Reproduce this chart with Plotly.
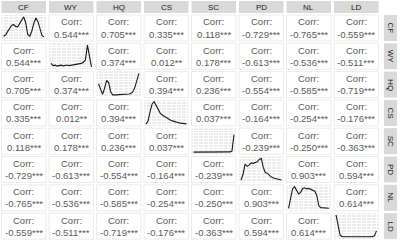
import plotly.graph_objects as go
import numpy as np

variables = ["CF", "WY", "HQ", "CS", "SC", "PD", "NL", "LD"]

# lower-triangle correlations (row variable vs later variables)
r_CF = [0.544, 0.705, 0.335, 0.118, -0.729, -0.765, -0.559]
s_CF = ["***", "***", "***", "***", "***", "***", "***"]
r_WY = [0.374, 0.012, 0.178, -0.613, -0.536, -0.511]
s_WY = ["***", "**", "***", "***", "***", "***"]
r_HQ = [0.394, 0.236, -0.554, -0.585, -0.719]
s_HQ = ["***", "***", "***", "***", "***"]
r_CS = [0.037, -0.164, -0.254, -0.176]
s_CS = ["***", "***", "***", "***"]
r_SC = [-0.239, -0.250, -0.363]
s_SC = ["***", "***", "***"]
r_PD = [0.903, 0.594]
s_PD = ["***", "***"]
r_NL = [0.614]
s_NL = ["***"]

# density curves (relative heights on an evenly spaced grid over each variable's range)
grid = np.linspace(0, 1, 21)
dens_CF = [0.15, 0.2, 0.35, 0.5, 0.62, 0.67, 0.58, 0.56, 0.7, 0.9, 1.0, 0.72, 0.22, 0.15, 0.38, 0.72, 0.95, 0.8, 0.45, 0.18, 0.12]
dens_WY = [0.2, 0.1, 0.12, 0.08, 0.1, 0.12, 0.09, 0.1, 0.13, 0.1, 0.12, 0.11, 0.14, 0.15, 0.18, 0.2, 0.25, 0.35, 1.0, 0.5, 0.05]
dens_HQ = [0.55, 0.3, 0.08, 0.35, 0.7, 0.6, 0.2, 0.06, 0.05, 0.06, 0.07, 0.07, 0.08, 0.08, 0.09, 0.1, 0.12, 0.2, 0.4, 0.75, 1.0]
dens_CS = [0.02, 0.15, 0.55, 0.9, 1.0, 0.85, 0.65, 0.5, 0.42, 0.36, 0.3, 0.25, 0.2, 0.16, 0.13, 0.1, 0.08, 0.06, 0.05, 0.04, 0.03]
dens_SC = [0.03, 0.03, 0.03, 0.03, 0.03, 0.03, 0.03, 0.03, 0.03, 0.03, 0.03, 0.03, 0.03, 0.03, 0.03, 0.03, 0.03, 0.03, 0.04, 0.08, 0.8]
dens_PD = [0.05, 0.3, 0.75, 0.65, 0.7, 0.8, 0.78, 0.82, 0.85, 0.95, 1.0, 0.6, 0.38, 0.35, 0.25, 0.18, 0.14, 0.12, 0.08, 0.06, 0.05]
dens_NL = [0.05, 0.5, 0.9, 1.0, 0.85, 0.68, 0.75, 0.92, 0.95, 0.9, 0.92, 0.88, 0.85, 0.8, 0.6, 0.15, 0.08, 0.07, 0.06, 0.06, 0.05]
dens_LD = [1.0, 0.55, 0.12, 0.05, 0.04, 0.04, 0.04, 0.04, 0.04, 0.04, 0.04, 0.04, 0.04, 0.04, 0.04, 0.04, 0.04, 0.04, 0.05, 0.08, 0.3]

r_rows = [r_CF, r_WY, r_HQ, r_CS, r_SC, r_PD, r_NL]
s_rows = [s_CF, s_WY, s_HQ, s_CS, s_SC, s_PD, s_NL]
densities = [dens_CF, dens_WY, dens_HQ, dens_CS, dens_SC, dens_PD, dens_NL, dens_LD]

n = len(variables)
corr = [[None] * n for _ in range(n)]
for i in range(n - 1):
    for k, (v, s) in enumerate(zip(r_rows[i], s_rows[i])):
        j = i + 1 + k
        corr[i][j] = (v, s)
        corr[j][i] = (v, s)

W, H = 400, 245
X0, PX, CW = 1.5, 47.5, 44.5
Y0, PY, CH = 15.0, 28.3, 26.0
STRIP_TOP, STRIP_BOT = 1.0, 13.0
RS_X0, RS_X1 = 384.0, 397.0

def fx(px):
    return px / W

def fy(py):
    return 1 - py / H

fig = go.Figure()
shapes = []
annotations = []
TXT = "#5a5a5a"
FONT = "Liberation Sans, Arial, sans-serif"

for i in range(n):
    for j in range(n):
        x0 = X0 + PX * j
        x1 = x0 + CW
        y0 = Y0 + PY * i
        y1 = y0 + CH
        if i == j:
            ax = i + 1
            xa = "xaxis" if ax == 1 else f"xaxis{ax}"
            ya = "yaxis" if ax == 1 else f"yaxis{ax}"
            xr = "x" if ax == 1 else f"x{ax}"
            yr = "y" if ax == 1 else f"y{ax}"
            fig.add_trace(go.Scatter(x=grid, y=densities[i], mode="lines",
                                     line=dict(color="#1a1a1a", width=1.1),
                                     xaxis=xr, yaxis=yr, showlegend=False,
                                     hoverinfo="skip"))
            fig.layout[xa] = dict(domain=[fx(x0), fx(x1)], range=[-0.05, 1.05],
                                  showticklabels=False, ticks="", zeroline=False,
                                  showgrid=True, gridcolor="white", gridwidth=0.8,
                                  dtick=0.25, tick0=0,
                                  minor=dict(showgrid=True, gridcolor="white", gridwidth=0.4, dtick=0.125),
                                  showline=False, anchor=yr, fixedrange=True)
            fig.layout[ya] = dict(domain=[fy(y1), fy(y0)], range=[-0.06, 1.08],
                                  showticklabels=False, ticks="", zeroline=False,
                                  showgrid=True, gridcolor="white", gridwidth=0.8,
                                  dtick=0.25, tick0=0,
                                  minor=dict(showgrid=True, gridcolor="white", gridwidth=0.4, dtick=0.125),
                                  showline=False, anchor=xr, fixedrange=True)
            shapes.append(dict(type="rect", xref=f"{xr} domain", yref=f"{yr} domain",
                               x0=0, x1=1, y0=0, y1=1, fillcolor="#ebebeb",
                               line=dict(width=0), layer="below"))
        else:
            shapes.append(dict(type="rect", xref="paper", yref="paper",
                               x0=fx(x0), x1=fx(x1), y0=fy(y1), y1=fy(y0),
                               fillcolor="white", line=dict(color="#ebebeb", width=1),
                               layer="below"))
            v, s = corr[i][j]
            cx = fx((x0 + x1) / 2)
            cy = (y0 + y1) / 2
            annotations.append(dict(text="Corr:", x=cx, y=fy(cy - 6), xref="paper", yref="paper",
                                    showarrow=False, xanchor="center", yanchor="middle",
                                    font=dict(size=9.5, color=TXT, family=FONT)))
            annotations.append(dict(text=f"{v:.3f}{s}", x=cx, y=fy(cy + 6), xref="paper", yref="paper",
                                    showarrow=False, xanchor="center", yanchor="middle",
                                    font=dict(size=9.5, color=TXT, family=FONT)))

# top strips
for j, name in enumerate(variables):
    x0 = X0 + PX * j
    x1 = x0 + CW
    shapes.append(dict(type="rect", xref="paper", yref="paper",
                       x0=fx(x0), x1=fx(x1), y0=fy(STRIP_BOT), y1=fy(STRIP_TOP),
                       fillcolor="#d9d9d9", line=dict(width=0), layer="below"))
    annotations.append(dict(text=name, x=fx((x0 + x1) / 2), y=fy((STRIP_TOP + STRIP_BOT) / 2),
                            xref="paper", yref="paper", showarrow=False,
                            xanchor="center", yanchor="middle",
                            font=dict(size=8, color="#1a1a1a", family=FONT)))

# right strips
for i, name in enumerate(variables):
    y0 = Y0 + PY * i
    y1 = y0 + CH
    shapes.append(dict(type="rect", xref="paper", yref="paper",
                       x0=fx(RS_X0), x1=fx(RS_X1), y0=fy(y1), y1=fy(y0),
                       fillcolor="#d9d9d9", line=dict(width=0), layer="below"))
    annotations.append(dict(text=name, x=fx((RS_X0 + RS_X1) / 2), y=fy((y0 + y1) / 2),
                            xref="paper", yref="paper", showarrow=False, textangle=90,
                            xanchor="center", yanchor="middle",
                            font=dict(size=8, color="#1a1a1a", family=FONT)))

fig.update_layout(width=W, height=H, margin=dict(l=0, r=0, t=0, b=0),
                  paper_bgcolor="white", plot_bgcolor="rgba(0,0,0,0)",
                  shapes=shapes, annotations=annotations, showlegend=False)

fig.write_html("out.html", config={"displayModeBar": False},
               post_script="document.body.style.margin='0';document.body.style.overflow='hidden';")
